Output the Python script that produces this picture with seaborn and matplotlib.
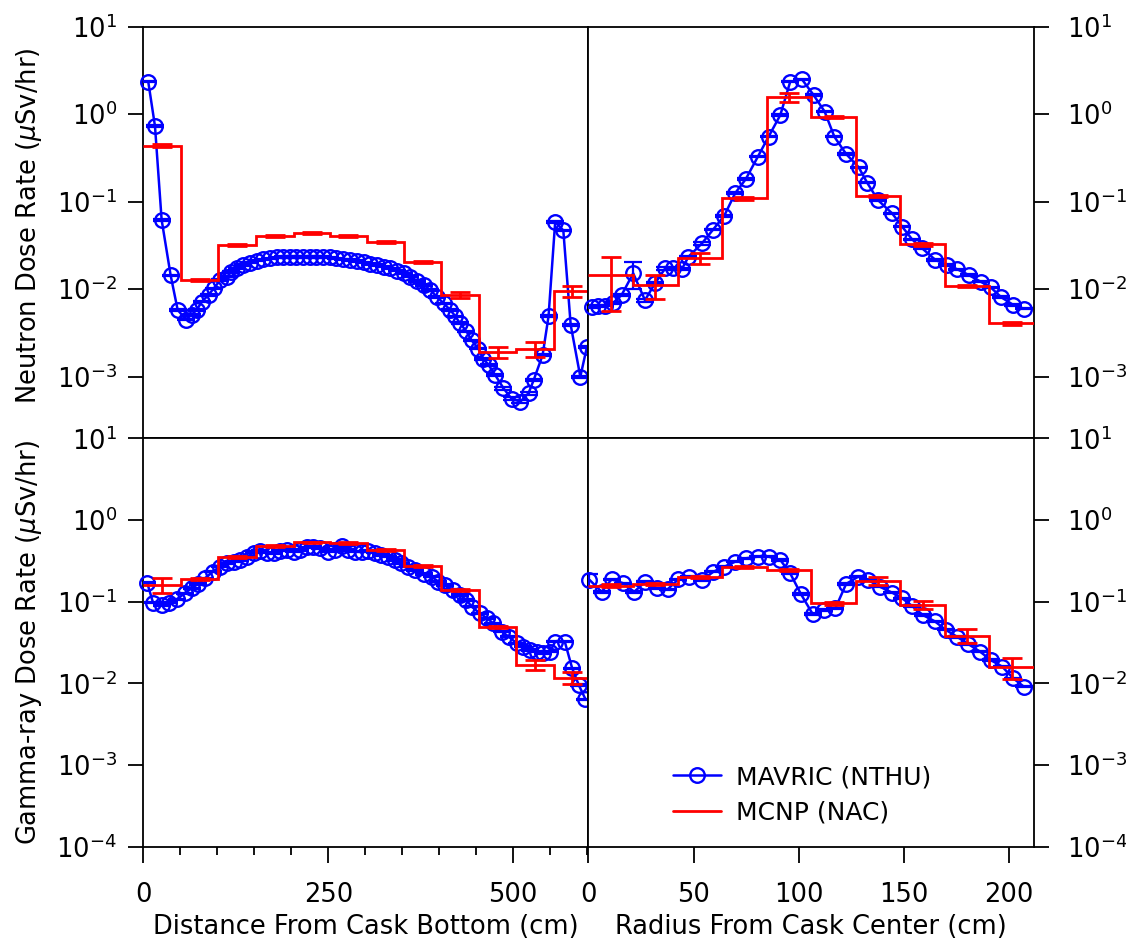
import numpy as np
import pandas as pd
import matplotlib
matplotlib.use("Agg")
import matplotlib.pyplot as plt
import matplotlib.ticker as mticker
from matplotlib.lines import Line2D
import seaborn as sns

#-----------------------------------------
# data
#-----------------------------------------
# neutron, axial (distance from cask bottom, cm)
mav_n_ax_x = [6.5, 15.6, 24.6, 36.8, 46.3, 57.5, 65, 72, 79, 88,
              95, 104, 113, 119, 126, 135, 144, 153, 162, 171,
              180, 189, 198, 207, 216, 225, 234, 243, 252, 261,
              270, 280, 289, 298, 307, 316, 325, 334, 343, 352,
              361, 370, 379, 388, 397, 406, 415, 422, 428, 437,
              444, 453, 460, 467, 476, 487, 498, 510, 521, 528,
              540, 548, 557, 568, 578, 591, 600]
mav_n_ax_y = [2.35, 0.73, 0.062, 0.0144, 0.0058, 0.0045, 0.0051, 0.0058, 0.0072, 0.0086,
              0.0102, 0.0127, 0.0139, 0.0158, 0.0173, 0.0189, 0.0201, 0.0212, 0.0219, 0.0225,
              0.0231, 0.0235, 0.0235, 0.0235, 0.0235, 0.0235, 0.0235, 0.0235, 0.0231, 0.0225,
              0.0219, 0.0215, 0.0210, 0.0203, 0.0194, 0.0189, 0.0181, 0.0173, 0.0163, 0.0152,
              0.0139, 0.0125, 0.0112, 0.0098, 0.0082, 0.0069, 0.0058, 0.0049, 0.0041, 0.0033,
              0.0026, 0.0021, 0.0016, 0.00136, 0.00104, 0.00074, 0.00056, 0.00052, 0.00065, 0.00092,
              0.00177, 0.0049, 0.059, 0.047, 0.0039, 0.0010, 0.0022]
mav_n_ax_pct = [2, 2, 2, 2, 2, 2, 2, 2, 2, 2,
                2, 2, 2, 2, 2, 2, 2, 2, 2, 2,
                2, 2, 2, 2, 2, 2, 2, 2, 2, 2,
                2, 2, 2, 2, 2, 2, 2, 2, 2, 2,
                2, 2, 2, 2, 2, 2, 2, 2, 2, 2,
                2, 2, 3, 3, 3, 4, 4, 4, 4, 3,
                3, 3, 2, 2, 3, 3, 3]

# neutron, radial (radius from cask center, cm)
mav_n_rad_x = [1.5, 4.7, 8, 11.8, 15.8, 21.3, 26.9, 31.7, 36.5, 40.4,
               44.4, 47.6, 54, 59.3, 64.6, 69.8, 74.9, 80.6, 85.7, 91.3,
               96, 101.6, 107.1, 112.4, 117, 122.6, 128.6, 132.6, 137.8, 144.5,
               149.3, 154, 158.8, 165.1, 170.7, 175.5, 181, 186.6, 191.4, 196.4,
               202.2, 207.2]
mav_n_rad_y = [0.0062, 0.0064, 0.0065, 0.0070, 0.0086, 0.0152, 0.0075, 0.0117, 0.0173, 0.0173,
               0.0169, 0.0235, 0.0334, 0.048, 0.069, 0.125, 0.182, 0.327, 0.553, 0.98,
               2.35, 2.5, 1.66, 1.07, 0.553, 0.351, 0.247, 0.165, 0.104, 0.0736,
               0.0518, 0.0371, 0.0293, 0.0216, 0.0189, 0.0169, 0.0145, 0.0122, 0.0105, 0.0081,
               0.0066, 0.0060]
mav_n_rad_pct = [2, 2, 2, 2, 3, 33, 4, 3, 3, 3,
                 3, 3, 3, 2, 2, 2, 2, 2, 2, 2,
                 2, 2, 2, 2, 2, 2, 2, 2, 2, 2,
                 2, 2, 2, 2, 2, 2, 2, 2, 2, 2,
                 2, 2]

# gamma, axial
mav_g_ax_x = [5, 13, 25, 35, 45, 56, 65, 74, 83, 94,
              103, 113, 122, 131, 140, 149, 158, 167, 176, 185,
              194, 203, 212, 221, 230, 239, 250, 259, 268, 277,
              286, 295, 304, 313, 322, 331, 340, 349, 358, 367,
              379, 390, 399, 408, 419, 428, 437, 444, 455, 465,
              473, 485, 494, 505, 514, 523, 532, 541, 550, 557,
              570, 580, 589, 598]
mav_g_ax_y = [0.171, 0.097, 0.091, 0.097, 0.107, 0.127, 0.146, 0.165, 0.193, 0.233,
              0.268, 0.295, 0.309, 0.324, 0.356, 0.398, 0.421, 0.398, 0.391, 0.421,
              0.43, 0.41, 0.43, 0.463, 0.471, 0.45, 0.41, 0.43, 0.481, 0.43,
              0.41, 0.41, 0.42, 0.40, 0.373, 0.356, 0.324, 0.295, 0.268, 0.244,
              0.218, 0.202, 0.176, 0.16, 0.139, 0.121, 0.105, 0.087, 0.072, 0.0626,
              0.0544, 0.043, 0.0373, 0.031, 0.0282, 0.0256, 0.0245, 0.0233, 0.0245, 0.0324,
              0.0324, 0.0153, 0.0095, 0.0064]
mav_g_ax_pct = [2, 2, 2, 2, 2, 2, 2, 2, 2, 2,
                2, 2, 2, 2, 2, 2, 2, 2, 2, 2,
                2, 2, 2, 2, 2, 2, 2, 2, 2, 2,
                2, 2, 2, 2, 2, 2, 2, 2, 2, 2,
                2, 2, 2, 2, 2, 2, 2, 2, 2, 2,
                2, 2, 2, 2, 2, 2, 2, 2, 2, 2,
                2, 2, 2, 2]

# gamma, radial
mav_g_rad_x = [0.5, 6.3, 11, 16.6, 21.8, 27, 32.5, 37.7, 42.8, 48,
               54, 59.5, 64.7, 69.8, 74.9, 80.6, 85.7, 91.3, 96, 101.1,
               106.7, 111.9, 117.5, 122.6, 128.3, 133.1, 138.5, 144.5, 149.3, 154,
               159.1, 164.8, 169.9, 175.5, 180.7, 186.3, 191.4, 196.9, 202.2, 207.2]
mav_g_rad_y = [0.185, 0.132, 0.188, 0.168, 0.132, 0.176, 0.146, 0.142, 0.188, 0.202,
               0.184, 0.233, 0.268, 0.309, 0.34, 0.356, 0.356, 0.324, 0.222, 0.124,
               0.0706, 0.079, 0.083, 0.165, 0.202, 0.184, 0.153, 0.129, 0.110, 0.0885,
               0.0687, 0.0575, 0.0454, 0.037, 0.0303, 0.0245, 0.0193, 0.016, 0.0115, 0.0091]
mav_g_rad_pct = [19, 2, 2, 2, 2, 2, 2, 2, 2, 2,
                 2, 2, 2, 2, 2, 2, 2, 2, 2, 2,
                 2, 2, 2, 2, 2, 2, 2, 2, 2, 2,
                 2, 2, 2, 2, 2, 2, 2, 2, 2, 2]

# MCNP tallies (bin edges, bin values, 1-sigma)
ax_edges = [0, 51, 101, 152, 203, 252, 302, 353, 403, 454, 504, 555, 605]
rad_edges = [0, 21.2, 42.4, 63.6, 84.8, 106.0, 127.2, 148.4, 169.6, 190.8, 212.0]

mcnp_n_ax = [0.436, 0.0127, 0.032, 0.0406, 0.0435, 0.0406, 0.0343, 0.0203, 0.0086, 0.0019, 0.0021, 0.0095]
mcnp_n_ax_err = [0.015, 0.0004, 0.0009, 0.001, 0.001, 0.001, 0.0009, 0.0005, 0.0007, 0.00027, 0.0004, 0.0013]
mcnp_n_rad = [0.0145, 0.0112, 0.0225, 0.109, 1.56, 0.936, 0.116, 0.0326, 0.0109, 0.0041]
mcnp_n_rad_err = [0.0088, 0.0035, 0.0032, 0.004, 0.17, 0.03, 0.004, 0.0012, 0.0004, 0.00015]
mcnp_g_ax = [0.16, 0.19, 0.352, 0.481, 0.533, 0.519, 0.43, 0.276, 0.139, 0.0486, 0.0169, 0.0117]
mcnp_g_ax_err = [0.033, 0.006, 0.008, 0.01, 0.012, 0.012, 0.01, 0.007, 0.004, 0.0015, 0.0022, 0.0019]
mcnp_g_rad = [0.157, 0.165, 0.202, 0.268, 0.244, 0.0955, 0.179, 0.091, 0.0384, 0.0158]
mcnp_g_rad_err = [0.006, 0.006, 0.007, 0.009, 0.008, 0.004, 0.02, 0.01, 0.0075, 0.0044]

BLUE = '#0000ff'
RED = '#ff0000'
MS = 10.5  # marker size

sns.set_theme(style="ticks", rc={"axes.edgecolor": "black", "xtick.color": "black",
                                 "ytick.color": "black", "text.color": "black",
                                 "axes.labelcolor": "black", "axes.linewidth": 1.3})
plt.rcParams['font.family'] = ['DejaVu Sans']


def draw_panel(ax, mx, my, mpct, edges, vals, errs):
    ax.set_yscale('log')
    df = pd.DataFrame({'x': mx, 'y': my})
    yerr = np.array(my) * np.array(mpct) / 100.0
    ax.errorbar(mx, my, yerr=yerr, fmt='none', ecolor=BLUE, elinewidth=1.6,
                capsize=6.5, capthick=1.6, zorder=3)
    sns.lineplot(data=df, x='x', y='y', ax=ax, color=BLUE, linewidth=1.8,
                 marker='o', markersize=MS, markerfacecolor='none',
                 markeredgecolor=BLUE, markeredgewidth=1.7,
                 estimator=None, sort=False, clip_on=False, zorder=3)
    edges = np.array(edges, dtype=float)
    ax.stairs(vals, edges, baseline=None, color=RED, linewidth=2, zorder=4)
    centers = (edges[:-1] + edges[1:]) / 2
    ax.errorbar(centers, vals, yerr=errs, fmt='none', ecolor=RED, elinewidth=2,
                capsize=7, capthick=2, zorder=4)
    ax.set_xlabel('')
    ax.set_ylabel('')


fig = plt.figure(figsize=(11.26, 9.5), dpi=100)
L, M, R = 0.1274, 0.5226, 0.9183
T, H, B = 0.9719, 0.5386, 0.1087
ax_nl = fig.add_axes([L, H, M - L, T - H])
ax_nr = fig.add_axes([M, H, R - M, T - H])
ax_gl = fig.add_axes([L, B, M - L, H - B])
ax_gr = fig.add_axes([M, B, R - M, H - B])

draw_panel(ax_nl, mav_n_ax_x, mav_n_ax_y, mav_n_ax_pct, ax_edges, mcnp_n_ax, mcnp_n_ax_err)
draw_panel(ax_nr, mav_n_rad_x, mav_n_rad_y, mav_n_rad_pct, rad_edges, mcnp_n_rad, mcnp_n_rad_err)
draw_panel(ax_gl, mav_g_ax_x, mav_g_ax_y, mav_g_ax_pct, ax_edges, mcnp_g_ax, mcnp_g_ax_err)
draw_panel(ax_gr, mav_g_rad_x, mav_g_rad_y, mav_g_rad_pct, rad_edges, mcnp_g_rad, mcnp_g_rad_err)

for ax in [ax_nl, ax_nr]:
    ax.set_ylim(10 ** -3.704, 10)
    ax.yaxis.set_major_locator(mticker.FixedLocator([1e1, 1e0, 1e-1, 1e-2, 1e-3]))
for ax in [ax_gl, ax_gr]:
    ax.set_ylim(1e-4, 10)
    ax.yaxis.set_major_locator(mticker.FixedLocator([1e1, 1e0, 1e-1, 1e-2, 1e-3, 1e-4]))

for ax in [ax_nl, ax_gl]:
    ax.set_xlim(0, 602)
    ax.xaxis.set_major_locator(mticker.FixedLocator([0, 250, 500]))
    ax.xaxis.set_minor_locator(mticker.MultipleLocator(50))
for ax in [ax_nr, ax_gr]:
    ax.set_xlim(0, 212)
    ax.xaxis.set_major_locator(mticker.FixedLocator([0, 50, 100, 150, 200]))
    ax.xaxis.set_minor_locator(mticker.NullLocator())

for ax in [ax_nl, ax_nr, ax_gl, ax_gr]:
    ax.yaxis.set_major_formatter(mticker.LogFormatterSciNotation())
    ax.yaxis.set_minor_locator(mticker.NullLocator())
    for sp in ax.spines.values():
        sp.set_visible(True)
        sp.set_linewidth(1.3)
        sp.set_color('black')
    ax.tick_params(which='both', direction='out', width=1.3, labelsize=18.5)
    ax.tick_params(axis='y', which='major', length=11, pad=8)
    ax.tick_params(axis='x', which='major', length=11.5, pad=14)
    ax.tick_params(axis='x', which='minor', length=6)
    ax.tick_params(top=False, labeltop=False)

for ax in [ax_nl, ax_nr]:
    ax.tick_params(axis='x', which='both', bottom=False, labelbottom=False)
for ax in [ax_nl, ax_gl]:
    ax.tick_params(axis='y', left=True, labelleft=True, right=False, labelright=False)
for ax in [ax_nr, ax_gr]:
    ax.tick_params(axis='y', left=False, labelleft=False, right=True, labelright=True)
    ax.tick_params(axis='y', which='major', pad=13)

ax_gl.set_xlabel('Distance From Cask Bottom (cm)', fontsize=18.5, labelpad=4)
ax_gr.set_xlabel('Radius From Cask Center (cm)', fontsize=18.5, labelpad=4)
ax_nl.set_ylabel(r'Neutron Dose Rate ($\mu$Sv/hr)', fontsize=18.5)
ax_gl.set_ylabel(r'Gamma-ray Dose Rate ($\mu$Sv/hr)', fontsize=18.5)
ax_nl.yaxis.set_label_coords(-0.223, 0.516)
ax_gl.yaxis.set_label_coords(-0.223, 0.5)

handles = [Line2D([], [], color=BLUE, linewidth=1.8, marker='o', markersize=MS,
                  markerfacecolor='none', markeredgecolor=BLUE, markeredgewidth=1.7),
           Line2D([], [], color=RED, linewidth=2)]
ax_gr.legend(handles, ['MAVRIC (NTHU)', 'MCNP (NAC)'], loc='upper left',
             bbox_to_anchor=(0.189, 0.200), frameon=False, fontsize=18,
             borderpad=0, handlelength=1.95, handletextpad=0.6, labelspacing=0.45,
             borderaxespad=0)

fig.savefig('out.png', dpi=100)
